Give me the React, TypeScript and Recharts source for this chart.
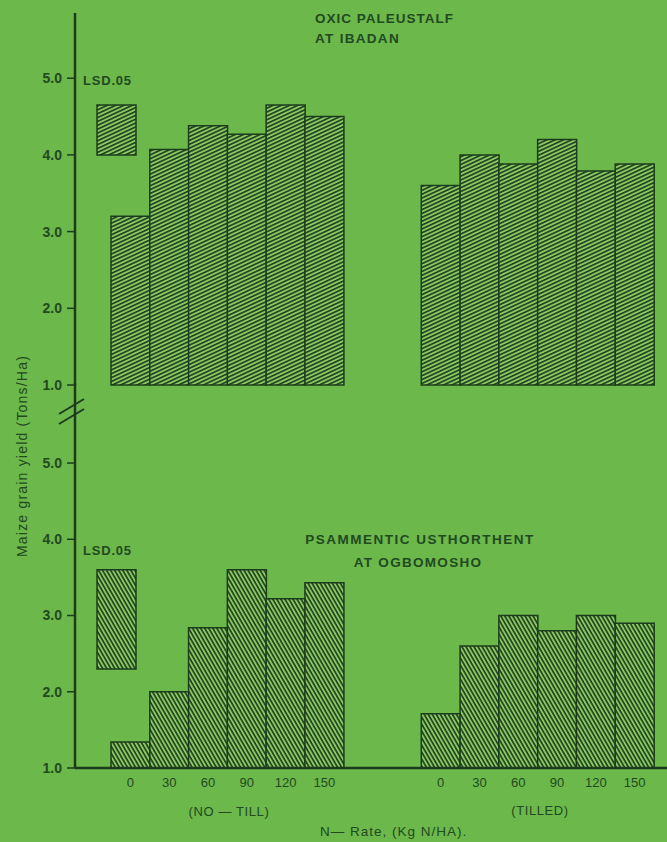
import { BarChart, Bar, XAxis, YAxis } from 'recharts';

// N rates (kg N/ha) shared by both tillage groups
const nRates = ['0', '30', '60', '90', '120', '150'];

// Maize grain yield, tons/ha
const ibadanNoTill = [3.2, 4.07, 4.38, 4.27, 4.65, 4.5];
const ibadanTilled = [3.6, 4.0, 3.88, 4.2, 3.79, 3.88];
const ogbomoshoNoTill = [1.34, 2.0, 2.84, 3.6, 3.22, 3.43];
const ogbomoshoTilled = [1.71, 2.6, 3.0, 2.8, 3.0, 2.9];

// LSD(.05) bands, drawn as floating boxes [low, high]
const ibadanLsd = [4.0, 4.65];
const ogbomoshoLsd = [2.3, 3.6];

const yTicks = [1, 2, 3, 4, 5];

const BG = '#6cb84b';
const INK = '#1b3d1d';
const TEXT = '#214a20';
const HATCH_BG = '#8cc862';
const FONT = '"Liberation Sans", Arial, Helvetica, sans-serif';

type Row = { slot: string; yield: number | null; lsd: number[] | null };

// six no-till slots, two empty slots as a spacer, six tilled slots
function panelRows(noTill: number[], tilled: number[], lsd: number[]): Row[] {
  const rows: Row[] = [];
  nRates.forEach((r, i) => rows.push({ slot: `nt-${r}`, yield: noTill[i], lsd: i === 0 ? lsd : null }));
  rows.push({ slot: 'gap-1', yield: null, lsd: null });
  rows.push({ slot: 'gap-2', yield: null, lsd: null });
  nRates.forEach((r, i) => rows.push({ slot: `t-${r}`, yield: tilled[i], lsd: null }));
  return rows;
}

const rateLabel = (v: string) => (v.startsWith('gap') ? '' : v.split('-')[1]);

interface PanelProps {
  rows: Row[];
  patternId: string;
  angle: number;
  top: number;
  height: number;
  marginBottom: number;
  yMax: number;
  showRates: boolean;
}

function YieldPanel({ rows, patternId, angle, top, height, marginBottom, yMax, showRates }: PanelProps) {
  return (
    <div style={{ position: 'absolute', left: 0, top, width: 667, height }}>
      <BarChart
        width={667}
        height={height}
        data={rows}
        margin={{ top: 13, right: 0, bottom: marginBottom, left: 0 }}
        barCategoryGap={0}
        barGap={0}
      >
        <defs>
          <pattern
            id={patternId}
            patternUnits="userSpaceOnUse"
            width={8}
            height={3.5}
            patternTransform={`rotate(${angle})`}
          >
            <rect width={8} height={3.5} fill={HATCH_BG} />
            <rect width={8} height={1.6} fill={INK} />
          </pattern>
        </defs>
        {/* LSD box sits a little left of the 0-rate bar, so it gets its own shifted band axis */}
        <XAxis xAxisId="lsd" dataKey="slot" hide height={0} padding={{ left: 22, right: 27 }} />
        <XAxis
          xAxisId="rate"
          dataKey="slot"
          hide={!showRates}
          padding={{ left: 36, right: 13 }}
          interval={0}
          tickFormatter={rateLabel}
          axisLine={{ stroke: INK, strokeWidth: 2.5 }}
          tickLine={false}
          tickSize={0}
          tickMargin={10}
          height={30}
          tick={{ fontSize: 13, fill: TEXT, fontFamily: FONT }}
        />
        <YAxis
          type="number"
          domain={[1, yMax]}
          ticks={yTicks}
          width={75}
          tickFormatter={(v: number) => v.toFixed(1)}
          axisLine={{ stroke: INK, strokeWidth: 2.5 }}
          tickLine={{ stroke: INK, strokeWidth: 1.5 }}
          tickSize={8}
          tickMargin={5}
          tick={{ fontSize: 14, fontWeight: 'bold', fill: TEXT, fontFamily: FONT }}
        />
        <Bar
          xAxisId="lsd"
          dataKey="lsd"
          fill={`url(#${patternId})`}
          stroke={INK}
          strokeWidth={1.5}
          isAnimationActive={false}
        />
        <Bar
          xAxisId="rate"
          dataKey="yield"
          fill={`url(#${patternId})`}
          stroke={INK}
          strokeWidth={1.5}
          isAnimationActive={false}
        />
      </BarChart>
    </div>
  );
}

export default function App() {
  const textStyle = { fontFamily: FONT, fill: TEXT };
  return (
    <div style={{ position: 'absolute', left: 0, top: 0, width: 667, height: 842, background: BG, overflow: 'hidden' }}>
      <YieldPanel
        rows={panelRows(ibadanNoTill, ibadanTilled, ibadanLsd)}
        patternId="hatch-ibadan"
        angle={-25}
        top={0}
        height={400}
        marginBottom={15}
        yMax={5.85}
        showRates={false}
      />
      <YieldPanel
        rows={panelRows(ogbomoshoNoTill, ogbomoshoTilled, ogbomoshoLsd)}
        patternId="hatch-ogbomosho"
        angle={60}
        top={370}
        height={472}
        marginBottom={44}
        yMax={6.05}
        showRates
      />
      <svg width={667} height={842} style={{ position: 'absolute', left: 0, top: 0, pointerEvents: 'none' }}>
        {/* axis break */}
        <line x1={59} y1={414} x2={84} y2={399} stroke={INK} strokeWidth={2} />
        <line x1={59} y1={424} x2={84} y2={409} stroke={INK} strokeWidth={2} />

        <g style={textStyle} fontWeight="bold" fontSize={13.5}>
          <text x={315} y={23} letterSpacing={1}>OXIC PALEUSTALF</text>
          <text x={315} y={43} letterSpacing={1.3}>AT IBADAN</text>
          <text x={420} y={544} textAnchor="middle" letterSpacing={1.5}>PSAMMENTIC USTHORTHENT</text>
          <text x={418} y={567} textAnchor="middle" letterSpacing={1.3}>AT OGBOMOSHO</text>
          <text x={83} y={85} fontSize={13} letterSpacing={0.8}>LSD.05</text>
          <text x={83} y={555} fontSize={13} letterSpacing={0.8}>LSD.05</text>
        </g>

        <g style={textStyle} fontSize={13}>
          <text x={229} y={816} textAnchor="middle" letterSpacing={0.6}>(NO — TILL)</text>
          <text x={540} y={815} textAnchor="middle" letterSpacing={0.6}>(TILLED)</text>
          <text x={320} y={836} fontSize={13.5} letterSpacing={1}>N— Rate, (Kg N/HA).</text>
          <text
            x={0}
            y={0}
            transform="translate(22,456) rotate(-90)"
            textAnchor="middle"
            dominantBaseline="central"
            fontSize={14}
            letterSpacing={1.2}
          >
            Maize grain yield (Tons/Ha)
          </text>
        </g>
      </svg>
    </div>
  );
}
